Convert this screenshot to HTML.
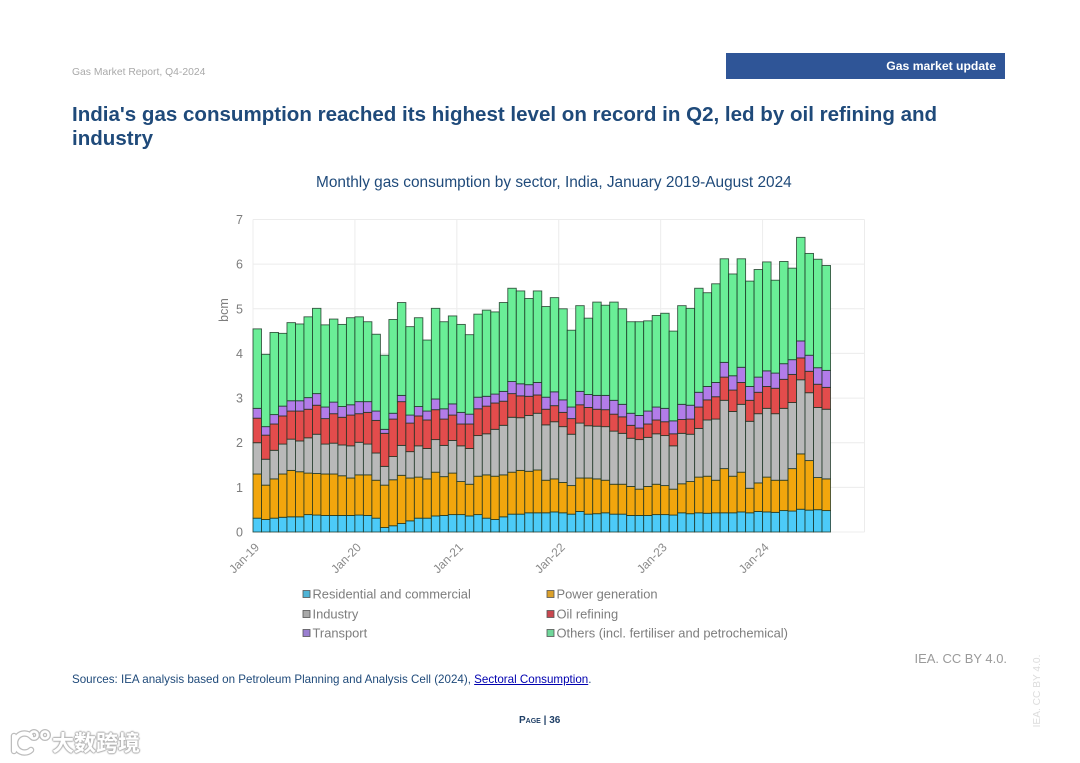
<!DOCTYPE html>
<html lang="en">
<head>
<meta charset="utf-8">
<title>Gas Market Report, Q4-2024</title>
<style>
html,body{margin:0;padding:0;background:#fff;}
#page{position:relative;width:1080px;height:763px;overflow:hidden;background:#fff;font-family:"Liberation Sans",sans-serif;filter:blur(0.35px);}
#page>div,#page>a{position:absolute;white-space:nowrap;}
#chart{position:absolute;left:0;top:0;}
</style>
</head>
<body>
<div id="page">
  <div style="left:72px;top:66px;font-size:10.35px;line-height:13px;color:#a9a9a9;">Gas Market Report, Q4-2024</div>
  <div style="left:726px;top:53px;width:279px;height:26px;background:#2f5597;"></div>
  <div style="right:84px;top:59px;font-size:12.2px;line-height:15px;font-weight:bold;color:#fff;">Gas market update</div>
  <div style="left:72px;top:103px;font-size:20.54px;line-height:24px;font-weight:bold;color:#1f4a7a;">India's gas consumption reached its highest level on record in Q2, led by oil refining and<br>industry</div>
  <div style="left:316px;top:174px;font-size:15.4px;line-height:18px;color:#1f4a7a;">Monthly gas consumption by sector, India, January 2019-August 2024</div>

  <svg id="chart" width="1080" height="763" viewBox="0 0 1080 763"></svg>

  <div style="right:73px;top:651px;font-size:12.95px;line-height:15px;color:#9a9a9a;">IEA. CC BY 4.0.</div>
  <div style="left:72px;top:673px;font-size:11.6px;line-height:14px;color:#1f4a7a;">Sources: IEA analysis based on Petroleum Planning and Analysis Cell (2024), <span style="color:#0000b0;text-decoration:underline;cursor:pointer;">Sectoral Consumption</span>.</div>
  <div style="left:519px;top:714px;font-size:10px;line-height:13px;font-weight:bold;color:#1f3f66;font-variant:small-caps;">Page | 36</div>
  <div style="left:1038px;top:691px;font-size:10.2px;line-height:10px;color:#dcdcdc;transform:translate(-50%,-50%) rotate(-90deg);">IEA. CC BY 4.0.</div>

  <svg width="50" height="34" viewBox="0 0 50 34" style="position:absolute;left:8px;top:725px;">
    <g fill="none" stroke="#bdbdbd" stroke-width="6.5" stroke-linecap="round">
      <path d="M6 11 L6 26"/><path d="M23 11 A9.5 9.5 0 1 0 23 25"/><circle cx="26" cy="10" r="3.5" stroke-width="5"/><circle cx="37" cy="10" r="3.5" stroke-width="5"/>
    </g>
    <g fill="none" stroke="#fff" stroke-width="4" stroke-linecap="round">
      <path d="M6 11 L6 26"/><path d="M23 11 A9.5 9.5 0 1 0 23 25"/><circle cx="26" cy="10" r="3.5" stroke-width="2.5"/><circle cx="37" cy="10" r="3.5" stroke-width="2.5"/>
    </g>
  </svg>
  <div style="left:52px;top:731px;font-family:'Liberation Sans','Noto Sans CJK SC',sans-serif;font-size:22px;line-height:25px;font-weight:bold;color:#fff;text-shadow:0 0 2px #aaa,1px 0 1px #bbb,-1px 0 1px #bbb,0 1px 1px #bbb,0 -1px 1px #bbb;">大数跨境</div>
</div>

<script>
const months = 68;
const yTickLabels = [0, 1, 2, 3, 4, 5, 6, 7];
const xTickLabels = ["Jan-19", "Jan-20", "Jan-21", "Jan-22", "Jan-23", "Jan-24"];
const seriesNames = ["Residential and commercial", "Power generation", "Industry", "Oil refining", "Transport", "Others (incl. fertiliser and petrochemical)"];

const residential = [.31,.28,.31,.33,.34,.34,.39,.38,.37,.37,.37,.37,.38,.37,.31,.10,.14,.19,.25,.31,.31,.36,.37,.39,.39,.36,.39,.31,.28,.34,.40,.40,.43,.43,.43,.45,.43,.40,.46,.40,.41,.43,.40,.40,.37,.37,.37,.39,.39,.38,.43,.41,.43,.42,.43,.43,.43,.45,.43,.46,.45,.44,.48,.47,.51,.49,.50,.48];
const power = [.99,.77,.88,.97,1.04,1.01,.93,.93,.93,.93,.89,.84,.90,.91,.85,.95,1.03,1.08,.96,.92,.88,.98,.87,.93,.74,.71,.86,.97,.97,.94,.94,.98,.93,.96,.73,.74,.68,.64,.75,.81,.78,.73,.67,.67,.65,.59,.65,.68,.65,.58,.65,.72,.80,.83,.73,.99,.82,.89,.55,.64,.78,.72,.68,.95,1.24,1.11,.72,.71];
const industry = [.70,.58,.64,.67,.70,.69,.79,.88,.67,.69,.69,.72,.73,.69,.61,.42,.52,.67,.59,.70,.68,.73,.70,.73,.80,.80,.91,.92,1.05,1.11,1.23,1.18,1.25,1.27,1.24,1.28,1.25,1.15,1.23,1.17,1.18,1.20,1.19,1.14,1.08,1.11,1.10,1.13,1.12,.97,1.13,1.06,1.09,1.26,1.37,1.53,1.45,1.52,1.50,1.55,1.54,1.49,1.61,1.48,1.66,1.52,1.57,1.56];
const oilRefining = [.55,.54,.59,.63,.63,.67,.64,.65,.57,.66,.62,.69,.64,.71,.73,.74,.84,.98,.64,.67,.64,.67,.59,.57,.49,.55,.60,.62,.59,.54,.53,.49,.43,.41,.35,.36,.32,.35,.41,.41,.38,.38,.38,.37,.29,.26,.30,.31,.31,.27,.31,.34,.48,.45,.50,.52,.48,.49,.47,.48,.49,.57,.65,.63,.49,.48,.52,.49];
const transport = [.22,.19,.21,.22,.23,.23,.26,.26,.26,.26,.24,.23,.27,.24,.21,.09,.13,.14,.18,.21,.20,.24,.23,.25,.26,.22,.26,.22,.20,.22,.27,.27,.26,.28,.27,.31,.28,.26,.30,.29,.31,.32,.31,.28,.27,.28,.29,.29,.30,.29,.34,.31,.33,.30,.32,.33,.32,.34,.31,.34,.35,.34,.35,.33,.38,.36,.37,.38];
const others = [1.78,1.62,1.84,1.63,1.75,1.72,1.81,1.91,1.84,1.86,1.84,1.95,1.90,1.79,1.72,1.66,2.10,2.08,1.98,1.99,1.59,2.03,1.95,1.97,1.97,1.78,1.86,1.93,1.84,1.99,2.09,2.08,1.93,2.05,2.03,2.11,2.04,1.72,1.92,1.71,2.09,2.02,2.20,2.14,2.05,2.10,2.02,2.05,2.13,2.01,2.21,2.17,2.33,2.10,2.21,2.32,2.28,2.43,2.36,2.41,2.44,2.08,2.29,2.05,2.32,2.28,2.43,2.35];

const seriesValues = [residential, power, industry, oilRefining, transport, others];
const seriesKeys = ["residential", "power", "industry", "oil-refining", "transport", "others"];
const seriesColors = ["#4ccbf8", "#f2a60d", "#b9b9b9", "#e34c4c", "#b27ce9", "#6aee97"];

const NS = "http://www.w3.org/2000/svg";
const svg = document.getElementById("chart");
const plot = {left: 253, right: 864.5, top: 219.5, bottom: 532};
const slots = 72;
const yMax = 7;
function xScale(i) { return plot.left + (plot.right - plot.left) * i / slots; }
function yScale(v) { return plot.bottom - (plot.bottom - plot.top) * v / yMax; }
function make(tag, attrs, parent) {
  const el = document.createElementNS(NS, tag);
  for (const k in attrs) el.setAttribute(k, attrs[k]);
  (parent || svg).appendChild(el);
  return el;
}

// gridlines
yTickLabels.forEach(function (t) {
  const line = make("line", {x1: plot.left, x2: plot.right, y1: yScale(t), y2: yScale(t), stroke: "#ececec", "stroke-width": 1});
  
  
  const label = make("text", {x: 243, y: yScale(t) + 4.5, "text-anchor": "end", "font-size": 12.5, fill: "#7d7d7d", "font-family": "Liberation Sans, sans-serif"});
  label.textContent = t;
  
  
});
xTickLabels.forEach(function (t, n) {
  const x = xScale(n * 12);
  const line = make("line", {x1: x, x2: x, y1: plot.top, y2: plot.bottom, stroke: "#ececec", "stroke-width": 1});
  
  
  const label = make("text", {x: x + 7, y: plot.bottom + 16, "text-anchor": "end", "font-size": 12, fill: "#8a8a8a", "font-family": "Liberation Sans, sans-serif", transform: "rotate(-45 " + (x + 7) + " " + (plot.bottom + 16) + ")"});
  label.textContent = t;
  
  
});
const rightEdge = make("line", {x1: plot.right, x2: plot.right, y1: plot.top, y2: plot.bottom, stroke: "#ececec", "stroke-width": 1});



const yTitle = make("text", {x: 228, y: 310, "text-anchor": "middle", "font-size": 12.5, fill: "#7d7d7d", "font-family": "Liberation Sans, sans-serif", transform: "rotate(-90 228 310)"});
yTitle.textContent = "bcm";



// stacked bars
for (let i = 0; i < months; i++) {
  let base = 0;
  for (let s = 0; s < seriesValues.length; s++) {
    const v = seriesValues[s][i];
    const y1 = yScale(base + v);
    const y0 = yScale(base);
    const bar = make("rect", {x: xScale(i), y: y1, width: xScale(1) - xScale(0), height: y0 - y1, fill: seriesColors[s], stroke: "#16301f", "stroke-opacity": 0.8, "stroke-width": 0.9});
    
    
    base += v;
  }
}

// legend
const legendColors = ["#4fb4d6", "#dba02a", "#a9a9a9", "#c9474f", "#9a7fd0", "#6fd79a"];
seriesNames.forEach(function (name, s) {
  const col = s % 2;
  const row = Math.floor(s / 2);
  const lx = col === 0 ? 303 : 547;
  const ly = [594, 614, 633][row];
  const g = make("g", {});
  
  
  const swatch = make("rect", {x: lx, y: ly - 3.5, width: 7, height: 7, fill: legendColors[s], stroke: "#555", "stroke-width": 0.8}, g);
  
  
  const label = make("text", {x: lx + 9.5, y: ly + 4.3, "font-size": 12.9, fill: "#7d7d7d", "font-family": "Liberation Sans, sans-serif"}, g);
  label.textContent = name;
  
  
});
</script>
</body>
</html>
